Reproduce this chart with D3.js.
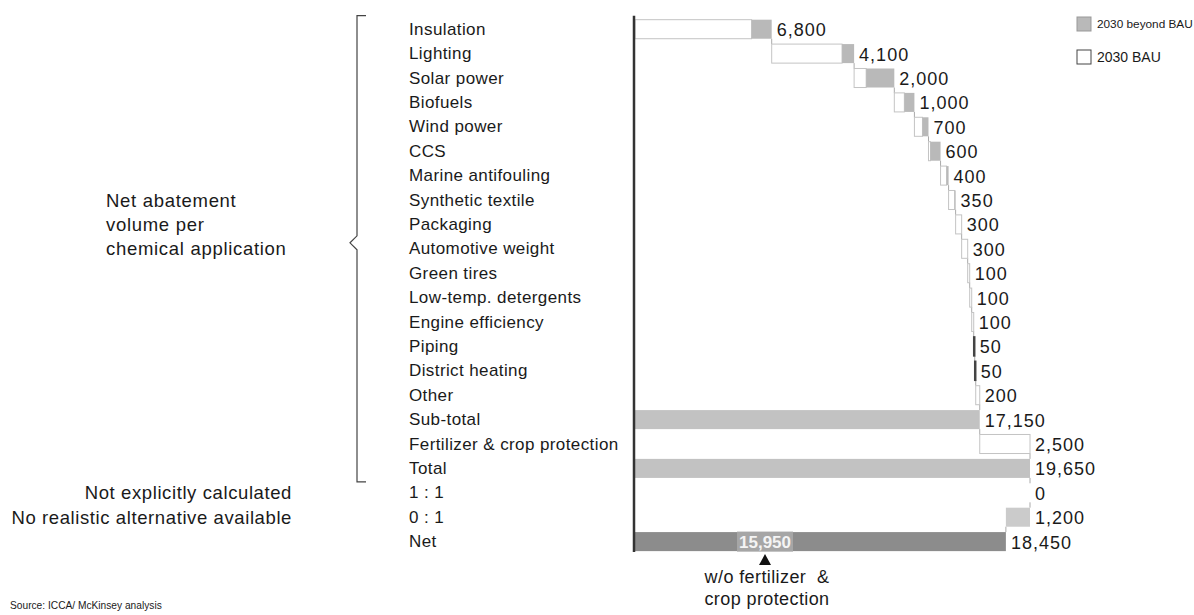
<!DOCTYPE html>
<html>
<head>
<meta charset="utf-8">
<script src="https://cdn.jsdelivr.net/npm/d3@7"></script>
<style>
  body { margin: 0; background: #fff; }
  svg text { font-family: "Liberation Sans", Arial, sans-serif; fill: #1a1a1a; }
</style>
</head>
<body>
<svg id="chart" width="1194" height="615"></svg>
<script>
// rows of the waterfall
var categories = ["Insulation", "Lighting", "Solar power", "Biofuels", "Wind power", "CCS",
  "Marine antifouling", "Synthetic textile", "Packaging", "Automotive weight", "Green tires",
  "Low-temp. detergents", "Engine efficiency", "Piping", "District heating", "Other",
  "Sub-total", "Fertilizer & crop protection", "Total", "1 : 1", "0 : 1", "Net"]
// "step" rows add on top of running sum, "total" rows restart from zero
var rowType = ["step","step","step","step","step","step","step","step","step","step","step",
  "step","step","step","step","step","total","step","total","step","step","net"]
// 2030 BAU part (white) and 2030 beyond BAU part (grey) of each step
var bauValues    = [5800, 3500, 600, 500, 400, 100, 300, 300, 300, 300, 100, 100, 100, 50, 50, 200, 0, 2500, 0, 0, 0, 0]
var beyondValues = [1000, 600, 1400, 500, 300, 500, 100, 50, 0, 0, 0, 0, 0, 0, 0, 0, 0, 0, 0, 0, -1200, 0]
var fertilizerRow = 17

var legendItems = ["2030 beyond BAU", "2030 BAU"]
var sideNotes = ["Net abatement", "volume per", "chemical application"]
var ratioNotes = ["Not explicitly calculated", "No realistic alternative available"]

var svg = d3.select("#chart")
var fmt = d3.format(",")
var fsz = 17

// build running sums
var rows = []
var run = 0
categories.forEach(function (c, i) {
  var r = { name: c, type: rowType[i], i: i }
  if (rowType[i] === "step") {
    r.start = run
    r.bau = bauValues[i]
    r.beyond = beyondValues[i]
    r.value = r.bau + r.beyond
    run += r.value
    r.end = run
  } else {
    r.start = 0
    r.end = run
    r.value = run
  }
  rows.push(r)
})
var totalMax = d3.max(rows, d => Math.max(d.start, d.end))

var x = d3.scaleLinear().domain([0, totalMax]).range([635, 1030])
var y = d3.scaleBand().domain(categories).range([17, 17 + categories.length * 24.4]).paddingInner(0.22).paddingOuter(0.11)
var step = y.step()

// row labels
svg.append("g").selectAll("text")
  .data(rows).join("text")
  .attr("x", 409)
  .attr("y", d => y(d.name) + y.bandwidth() / 2)
  .attr("dominant-baseline", "central")
  .attr("font-size", fsz)
  .attr("letter-spacing", 0.4)
  .text(d => d.name)

// bracket around the application rows
var bTop = y(categories[0]) - 4, bBot = y("Total") + y.bandwidth() + 4, bMid = (bTop + bBot) / 2 - 6
svg.append("path")
  .attr("d", "M366," + bTop + " H357 V" + (bMid - 7) + " L350," + bMid + " L357," + (bMid + 7) + " V" + bBot + " H366")
  .attr("fill", "none").attr("stroke", "#444").attr("stroke-width", 1.2)

svg.append("g").selectAll("text")
  .data(sideNotes).join("text")
  .attr("x", 106)
  .attr("y", (d, i) => y("Synthetic textile") + y.bandwidth() / 2 + i * step)
  .attr("dominant-baseline", "central")
  .attr("font-size", 18.5)
  .attr("letter-spacing", 0.7)
  .text(d => d)

svg.append("g").selectAll("text")
  .data(ratioNotes).join("text")
  .attr("x", 292)
  .attr("text-anchor", "end")
  .attr("y", (d, i) => y(categories[19 + i]) + y.bandwidth() / 2)
  .attr("dominant-baseline", "central")
  .attr("font-size", 18.5)
  .attr("letter-spacing", 0.6)
  .text(d => d)

// connectors between bars
var conn = []
rows.forEach(function (d, i) {
  if (i < rows.length - 1) conn.push({ x: x(d.end), y1: y(d.name) + y.bandwidth(), y2: y(rows[i + 1].name) })
})
svg.append("g").selectAll("line")
  .data(conn).join("line")
  .attr("x1", d => d.x).attr("x2", d => d.x)
  .attr("y1", d => d.y1).attr("y2", d => d.y2)
  .attr("stroke", "#aaa").attr("stroke-width", 1)

// bars
var bars = svg.append("g")
rows.forEach(function (d) {
  var yy = y(d.name), h = y.bandwidth()
  if (d.type === "step") {
    var x0 = x(d.start), xb = x(d.start + d.bau), x1 = x(d.end)
    if (d.bau > 0 || d.value === 0) {
      bars.append("rect")
        .attr("x", x0).attr("y", yy)
        .attr("width", Math.max(0, xb - x0)).attr("height", h)
        .attr("fill", "#fff")
        .attr("stroke", (xb - x0) < 2 ? "#444" : "#c4c4c4")
        .attr("stroke-width", (xb - x0) < 2 ? 1.5 : 1)
    }
    if (d.beyond !== 0) {
      bars.append("rect")
        .attr("x", Math.min(xb, x1)).attr("y", yy)
        .attr("width", Math.abs(x1 - xb)).attr("height", h)
        .attr("fill", d.beyond < 0 ? "#cbcbcb" : "#b9b9b9")
    }
  } else {
    bars.append("rect")
      .attr("x", x(0)).attr("y", yy)
      .attr("width", x(d.end) - x(0)).attr("height", h)
      .attr("fill", d.type === "net" ? "#8c8c8c" : "#c2c2c2")
  }
})

// value labels
svg.append("g").selectAll("text")
  .data(rows).join("text")
  .attr("x", d => x(Math.max(d.start, d.end)) + 5)
  .attr("y", d => y(d.name) + y.bandwidth() / 2 + 1)
  .attr("dominant-baseline", "central")
  .attr("font-size", 18)
  .attr("letter-spacing", 1)
  .text(d => fmt(Math.abs(d.value)))

// axis line
svg.append("line")
  .attr("x1", x(0) - 1).attr("x2", x(0) - 1)
  .attr("y1", bTop).attr("y2", y("Net") + y.bandwidth() + 1)
  .attr("stroke", "#333").attr("stroke-width", 2.5)

// net without fertilizer annotation
var netRow = rows[rows.length - 1]
var annotX = 765
var woFert = netRow.value - rows[fertilizerRow].value
var ny = y("Net") + y.bandwidth() / 2
svg.append("rect")
  .attr("x", annotX - 28).attr("y", ny - 10).attr("width", 56).attr("height", 20)
  .attr("fill", "#a6a6a6")
svg.append("text")
  .attr("x", annotX).attr("y", ny + 1)
  .attr("text-anchor", "middle").attr("dominant-baseline", "central")
  .attr("font-size", 17).attr("font-weight", "bold")
  .style("fill", "#f4f4f4")
  .text(fmt(woFert))
var ty = y("Net") + y.bandwidth() + 3
svg.append("path")
  .attr("d", "M" + annotX + "," + ty + " L" + (annotX + 6) + "," + (ty + 11) + " L" + (annotX - 6) + "," + (ty + 11) + "Z")
  .attr("fill", "#111")
svg.append("g").selectAll("text")
  .data(["w/o fertilizer  &", "crop protection"]).join("text")
  .attr("x", annotX + 2)
  .attr("y", (d, i) => 577 + i * 22)
  .attr("text-anchor", "middle").attr("dominant-baseline", "central")
  .attr("font-size", 18)
  .attr("letter-spacing", 0.4)
  .style("white-space", "pre")
  .text(d => d)

// legend
var lg = svg.append("g").attr("transform", "translate(1077,17)")
lg.selectAll("rect")
  .data(legendItems).join("rect")
  .attr("x", 0).attr("y", (d, i) => i * 33)
  .attr("width", 14).attr("height", 14)
  .attr("fill", (d, i) => i === 0 ? "#b9b9b9" : "#fff")
  .attr("stroke", (d, i) => i === 0 ? "#999" : "#444")
lg.selectAll("text")
  .data(legendItems).join("text")
  .attr("x", 20).attr("y", (d, i) => i * 33 + 7)
  .attr("dominant-baseline", "central")
  .attr("font-size", (d, i) => i === 0 ? 11.8 : 14)
  .text(d => d)

svg.append("text")
  .attr("x", 10).attr("y", 605)
  .attr("dominant-baseline", "central")
  .attr("font-size", 10.2)
  .text("Source: ICCA/ McKinsey analysis")
</script>
</body>
</html>
